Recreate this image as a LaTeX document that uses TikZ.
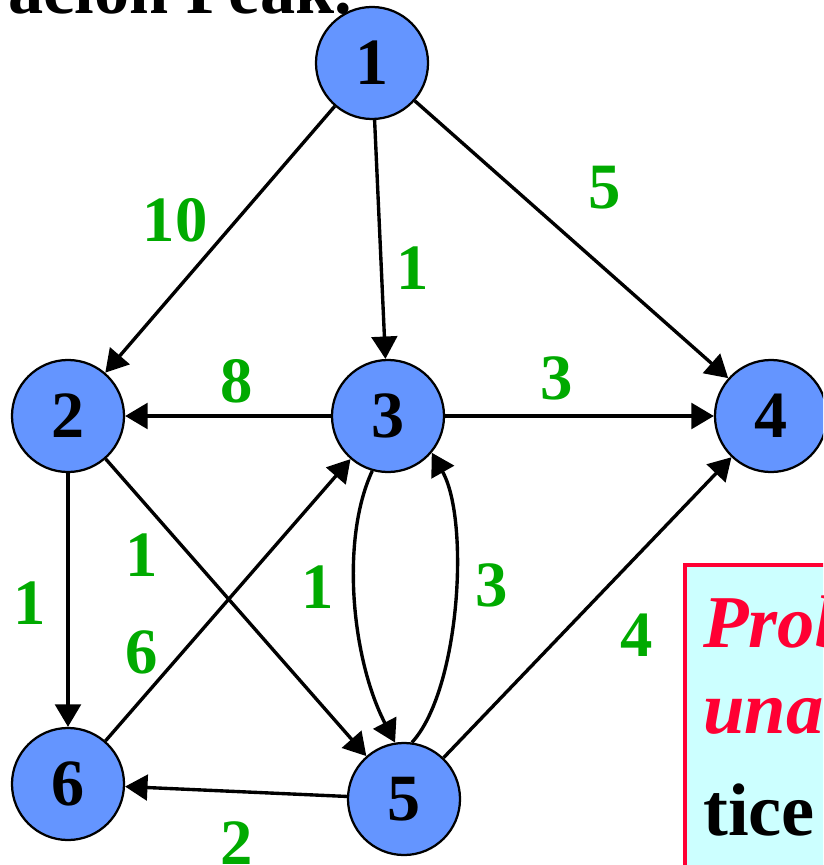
\documentclass[tikz,border=0pt]{standalone}
\usepackage{fontspec}
\setmainfont{Liberation Serif}
\usetikzlibrary{arrows.meta,positioning}
\definecolor{vertexblue}{HTML}{6495FF}
\definecolor{weightgreen}{HTML}{00AA00}
\definecolor{boxred}{HTML}{FF0033}
\definecolor{boxcyan}{HTML}{CCFFFF}
\tikzset{
  vertex/.style={circle,draw=black,line width=1.6pt,fill=vertexblue,minimum size=2.8cm,inner sep=0pt,font=\fontsize{47}{50}\selectfont\bfseries},
  edge/.style={-{Triangle[length=0.56cm,width=0.64cm]},line width=2.4pt},
  weight/.style={text=weightgreen,font=\fontsize{46}{50}\selectfont\bfseries,inner sep=0pt},
  boxtext/.style={anchor=base west,inner sep=0pt,font=\fontsize{53}{60}\selectfont\bfseries},
}

\begin{document}
\begin{tikzpicture}[x=0.025cm,y=-0.025cm]
  \path[use as bounding box] (0,0) rectangle (823,865);
  \clip (0,0) rectangle (823,865);
  % cut-off heading
  \node[anchor=base west,inner sep=0pt,font=\fontsize{50}{56}\selectfont\bfseries] (heading) at (8,14) {ación Peak.};
  % note box
  \draw[boxred,line width=3.5pt,fill=boxcyan] (685,565) rectangle (900,900);
  \node[boxtext,text=boxred,font=\fontsize{53}{60}\selectfont\bfseries\itshape] (prob) at (703,647) {Prob};
  \node[boxtext,text=boxred,font=\fontsize{53}{60}\selectfont\bfseries\itshape] (una) at (703,733) {una};
  \node[boxtext] (tice) at (703,835) {tice};
  % vertices
  \node[vertex] (n1) at (372,63) {1};
  \node[vertex] (n2) at (68,416) {2};
  \node[vertex] (n3) at (388,416) {3};
  \node[vertex] (n4) at (771,416) {4};
  \node[vertex] (n5) at (404,799) {5};
  \node[vertex] (n6) at (68,784) {6};
  % arcs
  \draw[edge] (n1) -- (n2);
  \draw[edge] (n1) -- (n3);
  \draw[edge] (n1) -- (n4);
  \draw[edge] (n3) -- (n2);
  \draw[edge] (n3) -- (n4);
  \draw[edge] (n2) -- (n6);
  \draw[edge] (n2) -- (n5);
  \draw[edge] (n6) -- (n3);
  \draw[edge] (n5) -- (n6);
  \draw[edge] (n5) -- (n4);
  \draw[edge] (n3.-106) .. controls (340,540) and (352,660) .. (n5.99);
  \draw[edge] (n5.82) .. controls (460,690) and (470,520) .. (n3.-40);
  % weights
  \node[weight] (w12) at (175,220) {10};
  \node[weight] (w13) at (413,268) {1};
  \node[weight] (w14) at (605,188) {5};
  \node[weight] (w32) at (237,381) {8};
  \node[weight] (w34) at (557,378) {3};
  \node[weight] (w26) at (30,603) {1};
  \node[weight] (w25) at (142,555) {1};
  \node[weight] (w63) at (142,652) {6};
  \node[weight] (w35) at (318,587) {1};
  \node[weight] (w53) at (492,585) {3};
  \node[weight] (w54) at (637,635) {4};
  \node[weight] (w56) at (237,843) {2};
\end{tikzpicture}
\end{document}
